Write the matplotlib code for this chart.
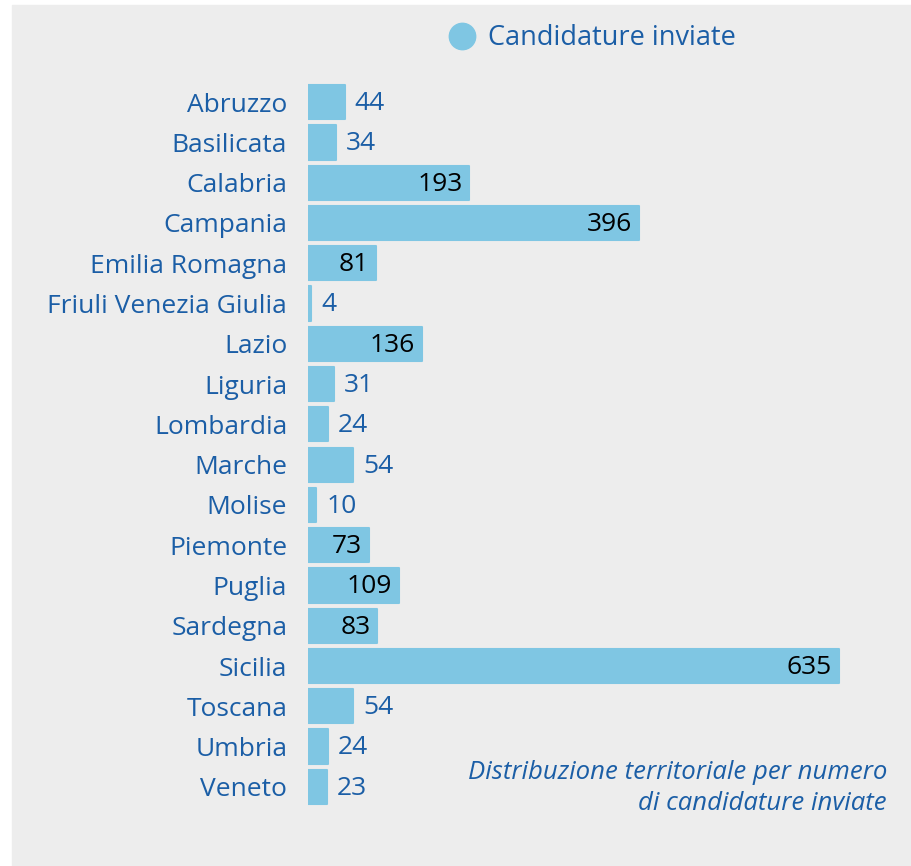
import matplotlib.pyplot as plt
from matplotlib.lines import Line2D
from matplotlib.patches import Rectangle

regions = ['Abruzzo', 'Basilicata', 'Calabria', 'Campania', 'Emilia Romagna',
           'Friuli Venezia Giulia', 'Lazio', 'Liguria', 'Lombardia', 'Marche',
           'Molise', 'Piemonte', 'Puglia', 'Sardegna', 'Sicilia', 'Toscana',
           'Umbria', 'Veneto']
candidature = [44, 34, 193, 396, 81, 4, 136, 31, 24, 54, 10, 73, 109, 83, 635, 54, 24, 23]

bar_color = '#7fc6e3'
text_color = '#1b5ea6'
bg_color = '#ededed'

plt.rcParams['font.family'] = ['Open Sans', 'DejaVu Sans']

W, H = 911, 866
fig = plt.figure(figsize=(W / 100, H / 100), dpi=100)
fig.patches.append(Rectangle((12 / W, 0), 1 - 12 / W, 1 - 5 / H,
                             transform=fig.transFigure, color=bg_color, zorder=-10))

# axes: bars start at x=308px, 0.836 px per unit, rows from y=82 to 807
x0, scale = 308, 0.836
xmax = 700
top, bottom = 82, 807
ax = fig.add_axes([x0 / W, 1 - bottom / H, xmax * scale / W, (bottom - top) / H])
ax.patch.set_alpha(0)

y = range(len(regions))
ax.barh(y, candidature, height=0.85, color=bar_color, edgecolor=bar_color,
        linewidth=1.5, joinstyle='round')
ax.set_xlim(0, xmax)
ax.set_ylim(len(regions) - 0.5, -0.5)
ax.set_yticks(list(y))
ax.set_yticklabels(regions, fontsize=19, color=text_color)
ax.tick_params(axis='y', length=0, pad=15)
ax.set_xticks([])
for s in ax.spines.values():
    s.set_visible(False)

# values inside the bar (black) when it is wide enough, otherwise outside
for i, v in enumerate(candidature):
    if v >= 70:
        ax.annotate(str(v), (v, i), xytext=(-5, -1), textcoords='offset points',
                    ha='right', va='center', fontsize=19, color='black')
    else:
        ax.annotate(str(v), (v, i), xytext=(7, -1), textcoords='offset points',
                    ha='left', va='center', fontsize=19, color=text_color)

handle = Line2D([], [], marker='o', linestyle='none', markersize=19,
                markerfacecolor=bar_color, markeredgecolor=bar_color)
fig.legend([handle], ['Candidature inviate'], loc='center left',
           bbox_to_anchor=(424 / W, 1 - 38 / H), frameon=False,
           fontsize=19.5, labelcolor=text_color, handlelength=1.0, handletextpad=0.45)

fig.text(887 / W, 1 - 779 / H, 'Distribuzione territoriale per numero',
         ha='right', va='baseline', fontsize=18.5, style='italic', color=text_color)
fig.text(887 / W, 1 - 810 / H, 'di candidature inviate',
         ha='right', va='baseline', fontsize=18.5, style='italic', color=text_color)

fig.savefig('out.png', dpi=100)
